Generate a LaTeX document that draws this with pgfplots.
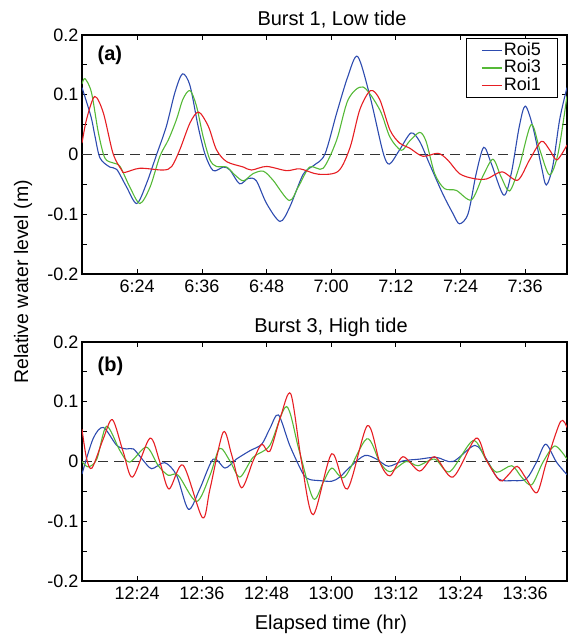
\documentclass[border=0pt]{standalone}
\usepackage{fontspec}
\setmainfont{Liberation Sans}
\usepackage{pgfplots}
\pgfplotsset{compat=1.18}
\definecolor{cblue}{RGB}{45,75,175}
\definecolor{cgreen}{RGB}{85,185,55}
\definecolor{cred}{RGB}{230,30,35}
\pgfplotsset{
  myaxis/.style={
    scale only axis, width=485pt, height=239pt,
    xmin=13.75, xmax=103.75, ymin=-0.2, ymax=0.2,
    xtick={24,36,48,60,72,84,96},
    ytick={-0.2,-0.1,0,0.1,0.2}, yticklabels={-0.2,-0.1,0,0.1,0.2},
    minor ytick={-0.15,-0.05,0.05,0.15},
    tick align=inside, major tick length=5pt, minor tick length=5pt,
    tick style={line width=0.8pt, black},
    axis line style={line width=1.3pt},
    ticklabel style={font=\fontsize{18}{20}\selectfont},
    xticklabel style={yshift=-2pt},
    every axis plot/.append style={line width=1.1pt, smooth, tension=0.5},
    clip=true,
  },
  zeroline/.style={forget plot, sharp plot, black!80, line width=1pt, dash pattern=on 10pt off 6pt},
}
\begin{document}
\begin{tikzpicture}
\useasboundingbox (0,0) rectangle (571pt,-638pt);
\begin{axis}[myaxis, at={(82pt,-35pt)}, anchor=north west,
  xticklabels={6:24,6:36,6:48,7:00,7:12,7:24,7:36},
  legend style={at={(0.981,0.986)}, anchor=north east, draw=black, line width=0.8pt,
    font=\fontsize{18}{18}\selectfont, inner xsep=15pt, inner ysep=3pt, row sep=0pt,
    nodes={inner sep=1.5pt, text height=12pt, text depth=2.5pt}},
  legend cell align=left,
  legend image code/.code={\draw[#1, line width=1.1pt] (0pt,0pt) -- (20pt,0pt);},
]
\addplot[zeroline] coordinates {(13.75,0) (103.75,0)};
\addplot[cblue] coordinates {(13.75,0.112) (15.4,0.064) (16.15,0.031) (17.1,-0.006) (18.9,-0.021) (20.2,-0.025) (22.0,-0.054) (23.9,-0.082) (25.7,-0.049) (27.6,0) (29.4,0.047) (31.0,0.104) (32.4,0.135) (33.8,0.115) (35.3,0.047) (36.6,0) (38.1,-0.027) (40.0,-0.021) (41.2,-0.026) (43.0,-0.049) (44.6,-0.04) (46.1,-0.044) (48.0,-0.082) (50.5,-0.112) (52.3,-0.088) (54.8,-0.033) (56.65,-0.019) (58.8,0) (61.0,0.069) (63.1,0.131) (64.9,0.164) (67.2,0.097) (69.6,0.004) (70.8,-0.016) (72.7,0.008) (74.8,0.036) (76.4,0.022) (78.2,-0.015) (80.7,-0.066) (82.6,-0.099) (83.8,-0.116) (85.4,-0.099) (86.9,-0.032) (88.3,0.012) (89.7,-0.015) (92.0,-0.068) (93.4,-0.032) (94.9,0.047) (96.0,0.081) (97.4,0.047) (99.0,-0.02) (99.9,-0.051) (101.1,-0.02) (102.4,0.059) (103.75,0.112)};
\addlegendentry{Roi5}
\addplot[cgreen] coordinates {(13.75,0.118) (14.3,0.127) (15.5,0.104) (16.8,0.036) (18.0,-0.006) (19.5,-0.014) (20.8,-0.02) (22.6,-0.054) (24.5,-0.082) (26.4,-0.054) (28.2,-0.003) (29.8,0.025) (31.3,0.059) (32.5,0.093) (33.8,0.107) (35.0,0.081) (36.2,0.031) (37.5,-0.009) (38.7,-0.02) (40.6,-0.021) (42.1,-0.034) (43.7,-0.044) (45.5,-0.032) (47.4,-0.028) (49.2,-0.043) (52.2,-0.077) (53.9,-0.054) (56.0,-0.021) (58.5,-0.023) (61.0,0.024) (63.15,0.092) (65.9,0.113) (69.0,0.075) (70.9,0.029) (73.0,0.007) (74.5,0.022) (76.4,0.037) (77.6,0.022) (79.2,-0.032) (81.0,-0.057) (83.2,-0.06) (86.0,-0.076) (88.1,-0.037) (90.0,-0.008) (91.5,-0.037) (93.1,-0.061) (94.9,-0.02) (97.1,0.05) (98.7,0.008) (100.5,-0.034) (102.1,0.002) (103.75,0.098)};
\addlegendentry{Roi3}
\addplot[cred] coordinates {(13.75,0.019) (14.6,0.059) (16.1,0.097) (17.7,0.07) (19.5,0.002) (21.1,-0.026) (21.7,-0.03) (24.5,-0.023) (28.8,-0.026) (30.4,-0.02) (31.9,0.008) (33.8,0.053) (35.4,0.071) (37.2,0.047) (38.7,0.008) (40.6,-0.012) (43.7,-0.021) (45.2,-0.026) (48.0,-0.02) (51.7,-0.027) (54.2,-0.024) (57.6,-0.033) (61.3,-0.028) (63.5,0.012) (65.3,0.075) (67.3,0.107) (69.0,0.092) (70.9,0.041) (72.7,0.019) (74.5,0.011) (77.0,-0.003) (79.8,0.002) (81.6,-0.009) (83.8,-0.032) (86.3,-0.04) (88.8,-0.041) (91.7,-0.029) (94.6,-0.043) (96.8,-0.009) (99.0,0.022) (100.5,0.008) (101.9,-0.009) (103.75,0.016)};
\addlegendentry{Roi1}
\node[anchor=west, font=\fontsize{20}{22}\selectfont\bfseries] at (rel axis cs:0.025,0.915) {(a)};
\end{axis}
\begin{axis}[myaxis, at={(82pt,-342pt)}, anchor=north west,
  xticklabels={12:24,12:36,12:48,13:00,13:12,13:24,13:36},
]
\addplot[zeroline] coordinates {(13.75,0) (103.75,0)};
\addplot[cblue] coordinates {(13.75,-0.021) (15.8,0.038) (17.7,0.057) (20.2,0.027) (22.0,0.021) (23.3,0.021) (25.1,0.002) (26.7,-0.012) (29.1,-0.002) (31.3,-0.023) (33.5,-0.08) (35.6,-0.046) (38.1,0.004) (40.3,-0.011) (42.4,0.004) (44.9,0.018) (47.1,0.029) (48.6,0.055) (50.2,0.078) (52.3,0.027) (54.8,-0.021) (56.0,-0.03) (57.9,-0.032) (60.1,-0.033) (61.6,-0.026) (63.5,-0.009) (66.2,0.01) (68.4,0.004) (70.6,-0.008) (73.3,0.001) (76.4,0.004) (79.5,0.007) (82.6,0) (86.65,0.027) (88.8,0.004) (91.0,-0.029) (93.75,-0.032) (96.2,-0.029) (98.1,-0.001) (99.8,0.029) (101.8,-0.001) (103.75,-0.022)};
\addplot[cgreen] coordinates {(13.75,0) (14.9,-0.009) (16.5,0.004) (18.3,0.059) (20.8,0.018) (22.6,-0.001) (25.7,0.024) (27.9,-0.007) (29.75,-0.023) (31.6,-0.023) (35.0,-0.067) (37.5,-0.023) (39.3,0.022) (41.2,0.001) (43.05,-0.026) (45.5,0.007) (48.6,0.027) (51.7,0.092) (54.0,0.02) (56.65,-0.062) (58.5,-0.035) (60.1,-0.011) (62.5,-0.026) (66.6,0.038) (69.0,-0.001) (70.9,-0.017) (73.9,0) (76.1,-0.007) (79.2,0.004) (82.0,-0.017) (86.3,0.035) (88.8,0.002) (90.7,-0.018) (93.5,-0.007) (95.3,-0.026) (97.2,-0.039) (99.3,-0.001) (101.5,0.026) (103.75,0.004)};
\addplot[cred] coordinates {(13.75,0.054) (14.6,0.005) (15.6,-0.011) (17.7,0.038) (19.4,0.07) (21.4,0.016) (23.15,-0.026) (26.35,0.039) (28.2,-0.001) (29.9,-0.046) (32.5,-0.006) (36.1,-0.094) (37.5,-0.046) (39.95,0.049) (41.5,0.012) (43.35,-0.044) (45.5,0.001) (47.1,0.029) (48.6,0.017) (50.6,0.075) (52.5,0.113) (54.5,-0.001) (56.65,-0.089) (60.1,0.013) (63.0,-0.046) (66.7,0.06) (69.0,-0.001) (70.9,-0.024) (73.3,0.008) (76.4,-0.016) (79.2,0.008) (82.6,-0.026) (86.85,0.039) (88.8,0.002) (91.3,-0.032) (92.8,-0.023) (94.5,-0.008) (96.2,-0.029) (98.2,-0.052) (99.95,-0.001) (102.55,0.067) (103.75,0.057)};
\node[anchor=west, font=\fontsize{20}{22}\selectfont\bfseries] at (rel axis cs:0.025,0.9) {(b)};
\end{axis}
\node[anchor=base, font=\fontsize{20}{22}\selectfont] at (332pt,-25pt) {Burst 1, Low tide};
\node[anchor=base, font=\fontsize{20}{22}\selectfont] at (331pt,-332pt) {Burst 3, High tide};
\node[anchor=base, font=\fontsize{20}{22}\selectfont] at (331pt,-629pt) {Elapsed time (hr)};
\node[rotate=90, font=\fontsize{19.5}{22}\selectfont] at (23pt,-282pt) {Relative water level (m)};
\end{tikzpicture}
\end{document}
